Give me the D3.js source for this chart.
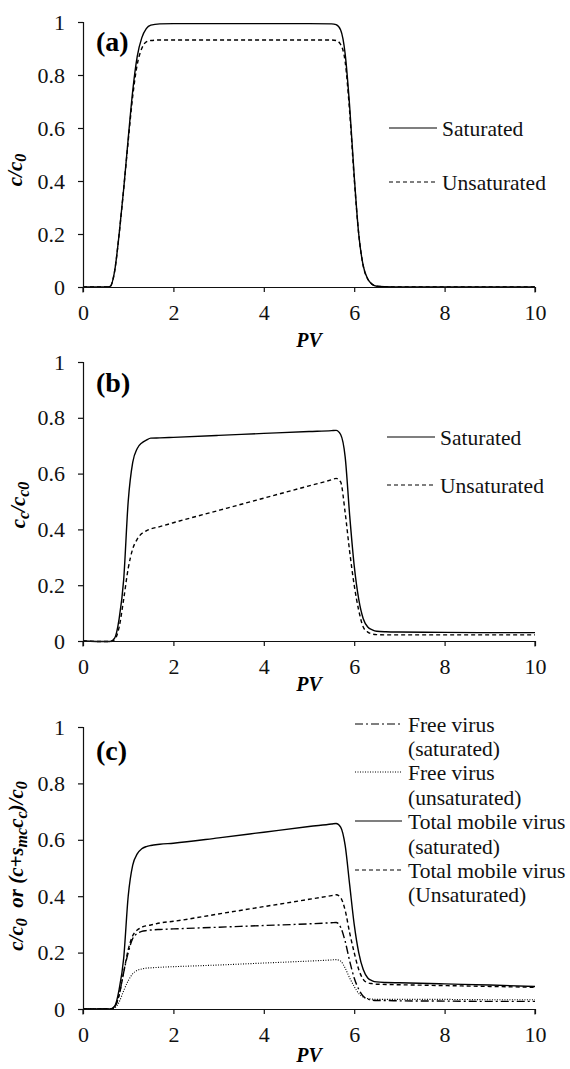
<!DOCTYPE html>
<html>
<head>
<meta charset="utf-8">
<script src="https://cdn.jsdelivr.net/npm/d3@7"></script>
</head>
<body style="margin:0">
<svg id="output" width="570" height="1069"></svg>
<script>
// pore volumes sampled along the breakthrough curves
var pv = [0, 0.5, 0.6, 0.7, 0.8, 0.9, 1.0, 1.1, 1.2, 1.3, 1.4, 1.5, 1.7, 2, 3, 4, 5, 5.5, 5.6, 5.7, 5.8, 5.9, 6.0, 6.1, 6.2, 6.3, 6.4, 6.5, 6.7, 7, 8, 9, 10];
var xTicks = [0, 2, 4, 6, 8, 10];
var yTicks = [0, 0.2, 0.4, 0.6, 0.8, 1];

// (a) c/c0
var aSaturated = [0, 0, 0.002, 0.06, 0.2, 0.37, 0.56, 0.74, 0.87, 0.94, 0.975, 0.988, 0.993, 0.994, 0.994, 0.994, 0.994, 0.993, 0.99, 0.97, 0.88, 0.68, 0.42, 0.2, 0.08, 0.03, 0.01, 0.003, 0.001, 0, 0, 0, 0];
var aUnsaturated = [0, 0, 0.002, 0.06, 0.2, 0.37, 0.55, 0.72, 0.84, 0.9, 0.925, 0.93, 0.932, 0.932, 0.932, 0.932, 0.932, 0.932, 0.93, 0.915, 0.85, 0.66, 0.41, 0.2, 0.08, 0.03, 0.01, 0.003, 0.001, 0, 0, 0, 0];

// (b) cc/cc0
var bSaturated = [0, -0.002, -0.002, 0.01, 0.08, 0.22, 0.5, 0.64, 0.69, 0.71, 0.72, 0.727, 0.728, 0.73, 0.737, 0.744, 0.751, 0.754, 0.755, 0.74, 0.66, 0.45, 0.27, 0.15, 0.08, 0.05, 0.04, 0.035, 0.033, 0.032, 0.031, 0.03, 0.03];
var bUnsaturated = [0, -0.002, -0.002, 0.005, 0.05, 0.15, 0.26, 0.33, 0.365, 0.385, 0.395, 0.402, 0.41, 0.424, 0.468, 0.512, 0.556, 0.578, 0.583, 0.57, 0.46, 0.32, 0.2, 0.11, 0.05, 0.032, 0.025, 0.023, 0.022, 0.022, 0.022, 0.022, 0.022];

// (c) free and total mobile virus
var cFreeSat = [0, 0, 0, 0.008, 0.05, 0.13, 0.2, 0.25, 0.268, 0.275, 0.278, 0.28, 0.282, 0.284, 0.29, 0.296, 0.302, 0.306, 0.307, 0.29, 0.24, 0.17, 0.11, 0.07, 0.045, 0.035, 0.031, 0.03, 0.03, 0.029, 0.028, 0.027, 0.027];
var cFreeUnsat = [0, 0, 0, 0.004, 0.025, 0.065, 0.1, 0.125, 0.137, 0.142, 0.145, 0.146, 0.148, 0.15, 0.156, 0.163, 0.17, 0.174, 0.175, 0.17, 0.145, 0.11, 0.08, 0.055, 0.042, 0.037, 0.035, 0.034, 0.034, 0.034, 0.034, 0.033, 0.033];
var cTotalSat = [0, 0, 0, 0.01, 0.07, 0.18, 0.4, 0.51, 0.55, 0.568, 0.576, 0.58, 0.584, 0.588, 0.607, 0.627, 0.647, 0.656, 0.658, 0.645, 0.58, 0.44, 0.3, 0.2, 0.14, 0.11, 0.1, 0.096, 0.094, 0.093, 0.089, 0.085, 0.08];
var cTotalUnsat = [0, 0, 0, 0.008, 0.05, 0.13, 0.21, 0.26, 0.28, 0.29, 0.295, 0.298, 0.305, 0.311, 0.337, 0.363, 0.389, 0.402, 0.405, 0.395, 0.35, 0.27, 0.2, 0.14, 0.105, 0.093, 0.09, 0.088, 0.087, 0.086, 0.083, 0.08, 0.077];

var dashes = { solid: null, dashed: '4,3', dashdot: '8,3,2,3', dotted: '1,1.5' };
var serif = 'Liberation Serif';

var output = d3.select('#output').attr('font-family', serif);
var x = d3.scaleLinear().domain([0, 10]).range([83, 535]);

var panels = [
    { top: 22, bottom: 287, letter: '(a)', letterY: 51, pvY: 347, label: { x: 17, y: 170 },
      series: [ { v: aSaturated, d: 'solid' }, { v: aUnsaturated, d: 'dashed' } ],
      legend: { x1: 389, x2: 437, tx: 442, rows: [ { y: 128, text: 'Saturated', d: 'solid' }, { y: 182, text: 'Unsaturated', d: 'dashed' } ] } },
    { top: 362, bottom: 641, letter: '(b)', letterY: 392, pvY: 691, label: { x: 20, y: 505 },
      series: [ { v: bSaturated, d: 'solid' }, { v: bUnsaturated, d: 'dashed' } ],
      legend: { x1: 387, x2: 435, tx: 440, rows: [ { y: 437, text: 'Saturated', d: 'solid' }, { y: 485, text: 'Unsaturated', d: 'dashed' } ] } },
    { top: 727, bottom: 1009, letter: '(c)', letterY: 760, pvY: 1062, label: { x: 18, y: 866 },
      series: [ { v: cFreeUnsat, d: 'dotted' }, { v: cFreeSat, d: 'dashdot' }, { v: cTotalUnsat, d: 'dashed' }, { v: cTotalSat, d: 'solid' } ],
      legend: { x1: 355, x2: 402, tx: 408, rows: [
          { y: 724, text: 'Free virus', d: 'dashdot' }, { y: 748, text: '(saturated)' },
          { y: 772, text: 'Free virus', d: 'dotted' }, { y: 797, text: '(unsaturated)' },
          { y: 821, text: 'Total mobile virus', d: 'solid' }, { y: 846, text: '(saturated)' },
          { y: 870, text: 'Total mobile virus', d: 'dashed' }, { y: 894, text: '(Unsaturated)' } ] } }
];

panels.forEach(function (p, k) {
    var y = d3.scaleLinear().domain([0, 1]).range([p.bottom, p.top]);
    var g = output.append('g');

    var line = d3.line()
        .x(function (d, i) { return x(pv[i]); })
        .y(function (d) { return y(d); })
        .curve(d3.curveMonotoneX);

    p.series.forEach(function (s) {
        g.append('path').attr('d', line(s.v)).attr('fill', 'none')
            .attr('stroke', '#000').attr('stroke-width', s.d == 'dotted' ? 1.1 : 1.4)
            .attr('stroke-dasharray', dashes[s.d]);
    });

    var xa = g.append('g').attr('transform', 'translate(0,' + p.bottom + ')')
        .call(d3.axisBottom(x).tickValues(xTicks).tickSize(5).tickPadding(12).tickFormat(d3.format('d')));
    var ya = g.append('g').attr('transform', 'translate(' + x(0) + ',0)')
        .call(d3.axisLeft(y).tickValues(yTicks).tickSize(5).tickPadding(13).tickFormat(function (d) { return String(d); }));
    [xa, ya].forEach(function (a) {
        a.attr('font-family', serif).attr('font-size', 22);
        a.selectAll('path, line').attr('stroke', '#111').attr('stroke-width', 1.2);
        a.selectAll('text').attr('font-family', serif).attr('font-size', 22).attr('fill', '#111');
    });
    xa.select('.domain').attr('d', 'M' + x(0) + ',0.5V5.5M' + x(0) + ',0.5H' + x(10) + 'V5.5');

    g.append('text').attr('x', 96).attr('y', p.letterY).attr('font-size', 28)
        .attr('font-family', serif).attr('font-weight', 'bold').text(p.letter);

    g.append('text').attr('x', (x(0) + x(10)) / 2).attr('y', p.pvY)
        .attr('text-anchor', 'middle').attr('font-size', 20).attr('font-weight', 'bold')
        .attr('font-family', serif).attr('font-style', 'italic').text('PV');

    // y axis title with subscripts
    var t = g.append('text').attr('transform', 'translate(' + p.label.x + ',' + p.label.y + ') rotate(-90)')
        .attr('text-anchor', 'middle').attr('dominant-baseline', 'middle').attr('font-family', serif)
        .attr('font-size', 21).attr('font-weight', 'bold').attr('font-style', 'italic');
    var parts;
    if (k == 0) parts = [['c/c', 0], ['0', 1]];
    else if (k == 1) parts = [['c', 0], ['c', 1], ['/c', 0], ['c0', 1]];
    else parts = [['c/c', 0], ['0', 1], ['\u00a0 or (c+s', 0], ['mc', 1], ['c', 0], ['c', 1], [')/c', 0], ['0', 1]];
    var prev = 0;
    parts.forEach(function (q) {
        var shift = q[1] ? 5 : 0;
        t.append('tspan').attr('dy', shift - prev).attr('font-size', q[1] ? 16 : 21).text(q[0]);
        prev = shift;
    });

    var lg = p.legend;
    lg.rows.forEach(function (r) {
        if (r.d) {
            g.append('line').attr('x1', lg.x1).attr('x2', lg.x2).attr('y1', r.y).attr('y2', r.y)
                .attr('stroke', '#000').attr('stroke-width', r.d == 'dotted' ? 1 : 1.2)
                .attr('stroke-dasharray', dashes[r.d]);
        }
        g.append('text').attr('x', lg.tx).attr('y', r.y).attr('dy', '0.35em')
            .attr('font-family', serif).attr('font-size', 21.5).attr('fill', '#111').text(r.text);
    });
});
</script>
</body>
</html>
